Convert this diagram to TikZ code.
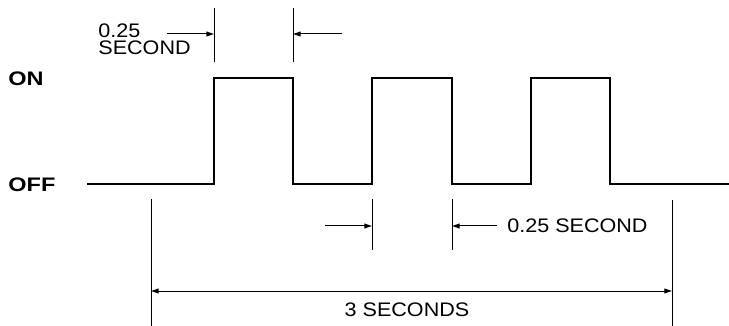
\documentclass[tikz,border=0pt]{standalone}
\usepackage{fontspec}
\setmainfont{Liberation Sans}
\newfontfamily\labelfont[FakeStretch=1.1]{Liberation Sans}
\newfontfamily\levelfont[FakeStretch=1.2]{Liberation Sans}
\usetikzlibrary{arrows.meta}

\begin{document}
\begin{tikzpicture}[x=0.5pt,y=-0.5pt,>={Triangle[length=3.8pt,width=2.4pt]},
  wave/.style={line width=1pt,line join=miter},
  dimline/.style={line width=0.5pt},
  lbl/.style={inner sep=0pt,font=\labelfont\fontsize{9.8}{8.6}\selectfont},
  level/.style={inner sep=0pt,font=\levelfont\bfseries\fontsize{9.8}{10}\selectfont}]
\useasboundingbox (0,0) rectangle (729,326);
% levels
\node[level,anchor=west] (on) at (8,79) {ON};
\node[level,anchor=west] (off) at (8,185) {OFF};
% waveform
\draw[wave] (87,184) -- (214,184) -- (214,78) -- (293,78) -- (293,184)
  -- (372,184) -- (372,78) -- (452,78) -- (452,184)
  -- (531,184) -- (531,78) -- (610,78) -- (610,184) -- (729,184);
% pulse width
\coordinate (t1) at (214,8);  \coordinate (t1b) at (214,62);
\coordinate (t2) at (293,8);  \coordinate (t2b) at (293,62);
\draw[dimline] (t1) -- (t1b);
\draw[dimline] (t2) -- (t2b);
\coordinate (t1a) at (214,34); \coordinate (t2a) at (293,34);
\draw[dimline,->] (167,34) -- (t1a);
\draw[dimline,->] (342,34) -- (t2a);
\node[lbl,anchor=north west,align=left] (toplbl) at (98,23) {0.25\\SECOND};
% gap width
\coordinate (g1) at (372,199); \coordinate (g1b) at (372,250);
\coordinate (g2) at (452,199); \coordinate (g2b) at (452,250);
\draw[dimline] (g1) -- (g1b);
\draw[dimline] (g2) -- (g2b);
\coordinate (g1a) at (372,226); \coordinate (g2a) at (452,226);
\draw[dimline,->] (325,226) -- (g1a);
\node[lbl,anchor=west] (midlbl) at (507,226) {0.25 SECOND};
\draw[dimline,->] (midlbl.west) ++(-10,0) -- (g2a);
% period
\coordinate (p1) at (151,199); \coordinate (p1b) at (151,326);
\coordinate (p2) at (672,200); \coordinate (p2b) at (672,326);
\draw[dimline] (p1) -- (p1b);
\draw[dimline] (p2) -- (p2b);
\coordinate (p1a) at (151,291); \coordinate (p2a) at (672,291);
\draw[dimline,<->] (p1a) -- (p2a);
\node[lbl] (botlbl) at (407,310) {3 SECONDS};
\end{tikzpicture}
\end{document}
